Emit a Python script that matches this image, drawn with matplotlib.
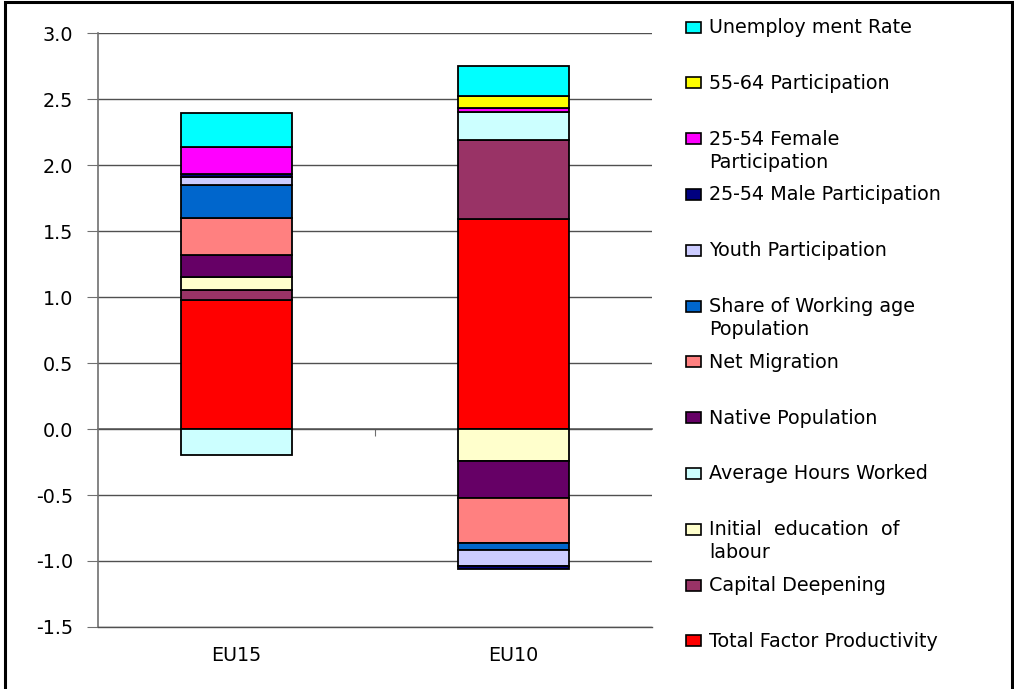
import matplotlib
matplotlib.use("Agg")
import matplotlib.pyplot as plt
from matplotlib.patches import Rectangle
import numpy as np

plt.rcParams['font.family'] = ['DejaVu Sans']

categories = ["EU15", "EU10"]
series_names = [
    "Total Factor Productivity",
    "Capital Deepening",
    "Initial  education  of\nlabour",
    "Average Hours Worked",
    "Native Population",
    "Net Migration",
    "Share of Working age\nPopulation",
    "Youth Participation",
    "25-54 Male Participation",
    "25-54 Female\nParticipation",
    "55-64 Participation",
    "Unemploy ment Rate",
]
tfp = [0.98, 1.59]
capital = [0.07, 0.60]
education = [0.10, -0.24]
hours = [-0.20, 0.21]
native = [0.17, -0.28]
migration = [0.275, -0.34]
share_wa = [0.255, -0.06]
youth = [0.06, -0.115]
male = [0.02, -0.025]
female = [0.205, 0.035]
older = [0.0, 0.09]
unemployment = [0.26, 0.225]

series_values = [tfp, capital, education, hours, native, migration,
                 share_wa, youth, male, female, older, unemployment]
colors = ["#FF0000", "#993366", "#FFFFCC", "#CCFFFF", "#660066", "#FF8080",
          "#0066CC", "#CCCCFF", "#000080", "#FF00FF", "#FFFF00", "#00FFFF"]
yticks = [-1.5, -1.0, -0.5, 0.0, 0.5, 1.0, 1.5, 2.0, 2.5, 3.0]

FS = 13.8
W, H = 1014, 689
fig = plt.figure(figsize=(W / 100, H / 100), dpi=100)
ax = fig.add_axes([98 / W, 1 - 627 / H, (652 - 98) / W, (627 - 33) / H])

x = np.arange(len(categories))
pos_base = np.zeros(len(categories))
neg_base = np.zeros(len(categories))
for name, vals, c in zip(series_names, series_values, colors):
    vals = np.array(vals, dtype=float)
    bottoms = np.where(vals >= 0, pos_base, neg_base)
    ax.bar(x, vals, width=0.4, bottom=bottoms, color=c, edgecolor="black",
           linewidth=1.3, zorder=3)
    pos_base = pos_base + np.where(vals > 0, vals, 0)
    neg_base = neg_base + np.where(vals < 0, vals, 0)

ax.set_xlim(-0.5, 1.5)
ax.set_ylim(-1.5, 3.0)
ax.set_yticks(yticks)
ax.set_yticklabels([f"{v:.1f}" for v in yticks], fontsize=FS)
ax.yaxis.grid(True, color="#505050", linewidth=1.0, zorder=0)
ax.tick_params(axis="y", direction="out", length=8, color="#707070", pad=10)
ax.set_xticks(x)
ax.set_xticklabels(categories, fontsize=FS)
ax.tick_params(axis="x", length=0, pad=14)
for s in ["top", "right"]:
    ax.spines[s].set_visible(False)
ax.spines["bottom"].set_color("#505050")
ax.spines["bottom"].set_linewidth(1.0)
ax.spines["left"].set_color("#707070")
ax.spines["left"].set_linewidth(1.2)

# zero line with category separators
sec = ax.secondary_xaxis(1.5 / 4.5)
sec.set_xticks([0.5])
sec.set_xticklabels([""])
sec.tick_params(direction="out", length=5, color="#707070")
sec.spines["bottom"].set_color("#707070")
sec.spines["bottom"].set_linewidth(1.3)

# legend (reverse order), drawn manually
y0 = 27
step = 55.8
for i, (name, c) in enumerate(zip(series_names[::-1], colors[::-1])):
    yc = y0 + i * step
    fig.patches.append(Rectangle((686 / W, 1 - (yc + 5.5) / H), 15 / W, 11 / H,
                                 transform=fig.transFigure, facecolor=c,
                                 edgecolor="black", linewidth=1.2))
    for j, line in enumerate(name.split("\n")):
        fig.text(709 / W, 1 - (yc + 6 + 23 * j) / H, line, fontsize=FS,
                 va="baseline", ha="left")

# figure frame
fig.patches.append(Rectangle((5 / W, -2 / H), (1012 - 5) / W, (689) / H,
                             transform=fig.transFigure, facecolor="none",
                             edgecolor="black", linewidth=2.2))

fig.savefig("out.png", dpi=100)
